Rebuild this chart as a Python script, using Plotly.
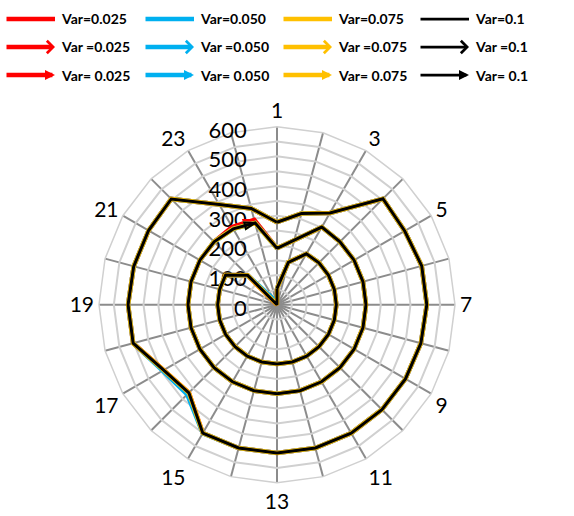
import math
import plotly.graph_objects as go

# 24 spokes of the radar, labels on the odd ones only
spokes = [str(i) for i in range(1, 25)]
spoke_labels = [s if int(s) % 2 == 1 else "" for s in spokes]

# radial grid every 50, labels every 100
radial_ticks = [0, 50, 100, 150, 200, 250, 300, 350, 400, 450, 500, 550, 600]
radial_labels = ["0", "", "100", "", "200", "", "300", "", "400", "", "500", "", "600"]

var_values = ["0.025", "0.050", "0.075", "0.1"]

# plain series ("Var=") - outer loop
outer_025 = [278, 318, 357, 505, 497, 505, 505, 502, 500, 500, 500, 500, 500, 500, 500, 420, 441, 502, 502, 500, 500, 504, 390, 336]
outer_050 = [278, 318, 357, 505, 497, 505, 505, 502, 500, 500, 500, 500, 500, 500, 500, 428, 445, 502, 502, 500, 500, 504, 390, 336]
outer_075 = [278, 318, 357, 505, 497, 505, 505, 502, 500, 500, 500, 500, 500, 500, 500, 420, 441, 502, 502, 500, 500, 504, 390, 336]
outer_100 = [278, 318, 357, 505, 497, 505, 505, 502, 500, 500, 500, 500, 500, 500, 500, 420, 441, 502, 502, 500, 500, 504, 390, 336]

# open-arrow series ("Var =") - middle loop
middle_025 = [190, 225, 302, 300, 300, 300, 300, 300, 300, 300, 300, 300, 300, 300, 300, 300, 300, 300, 300, 300, 300, 300, 302, 296]
middle_050 = [190, 225, 302, 300, 300, 300, 300, 300, 300, 300, 300, 300, 300, 300, 300, 300, 300, 300, 300, 300, 300, 300, 295, 285]
middle_075 = [190, 225, 302, 300, 300, 300, 300, 300, 300, 300, 300, 300, 300, 300, 300, 300, 300, 300, 300, 300, 300, 300, 295, 285]
middle_100 = [190, 225, 302, 300, 300, 300, 300, 300, 300, 300, 300, 300, 300, 300, 300, 300, 300, 300, 300, 300, 300, 300, 295, 285]

# triangle-arrow series ("Var= ") - inner loop
inner_025 = [55, 148, 198, 200, 200, 200, 200, 200, 200, 200, 200, 200, 200, 200, 200, 200, 200, 200, 200, 200, 200, 140, 0, 0]
inner_050 = [55, 148, 198, 200, 200, 200, 200, 200, 200, 200, 200, 200, 200, 200, 200, 200, 200, 200, 200, 200, 200, 140, 20, 0]
inner_075 = [55, 148, 198, 200, 200, 200, 200, 200, 200, 200, 200, 200, 200, 200, 200, 200, 200, 200, 200, 200, 200, 140, 0, 0]
inner_100 = [55, 148, 198, 200, 200, 200, 200, 200, 200, 200, 200, 200, 200, 200, 200, 200, 200, 200, 200, 200, 200, 140, 0, 0]

series_groups = [
    ("Var=", [outer_025, outer_050, outer_075, outer_100], None),
    ("Var =", [middle_025, middle_050, middle_075, middle_100], "arrow-open"),
    ("Var= ", [inner_025, inner_050, inner_075, inner_100], "arrow"),
]

colors = ["#FF0000", "#00B0F0", "#FFC000", "#000000"]
widths = [4.5, 4.5, 4.5, 3]
FONT = "Lato"


def end_angle(values):
    """Screen heading (deg clockwise from up) of the last non-degenerate segment."""
    pts = []
    for i, v in enumerate(values):
        a = math.radians(i * 360 / len(values))
        pts.append((v * math.sin(a), v * math.cos(a)))
    x1, y1 = pts[-1]
    for x0, y0 in reversed(pts[:-1]):
        if abs(x1 - x0) + abs(y1 - y0) > 1e-6:
            return math.degrees(math.atan2(x1 - x0, y1 - y0))
    return 0.0


fig = go.Figure()
for prefix, group, head in series_groups:
    for vals, color, w, var in zip(group, colors, widths, var_values):
        fig.add_trace(go.Scatterpolar(
            r=vals + [vals[0]], theta=spokes + [spokes[0]],
            mode="lines", line=dict(color=color, width=w),
            name=prefix + var, showlegend=False, hoverinfo="skip"))
        if head:
            fig.add_trace(go.Scatterpolar(
                r=[vals[-1]], theta=[spokes[-1]], mode="markers",
                marker=dict(symbol=head, size=11, angle=end_angle(vals),
                            color=color, line=dict(color=color, width=2)),
                showlegend=False, hoverinfo="skip"))

# legend drawn as a 3 x 4 grid of arrow samples with labels
W, H = 574, 516
col_x = [5, 144, 282, 419]
row_y = [19, 47, 75]
heads = [0, 4, 2]
annotations = []
for r, (prefix, group, head) in enumerate(series_groups):
    for c, (color, var) in enumerate(zip(colors, var_values)):
        aw = 2.75 if color == "#000000" else 4.5
        if heads[r] == 4:
            size = 2.4 / aw
        elif heads[r] == 2:
            size = 2.0 / aw
        else:
            size = 1
        x_tip = col_x[c] + 50
        annotations.append(dict(
            x=x_tip / W, y=1 - row_y[r] / H, xref="paper", yref="paper",
            ax=-50, ay=0, axref="pixel", ayref="pixel", text="",
            showarrow=True, arrowhead=heads[r], arrowwidth=aw,
            arrowsize=size, arrowcolor=color))
        annotations.append(dict(
            x=(x_tip + 4) / W, y=1 - row_y[r] / H, xref="paper", yref="paper",
            xanchor="left", yanchor="middle", showarrow=False,
            text=prefix + var,
            font=dict(family=FONT, size=14, color="black", weight="bold")))

cx, cy, rad = 277, 304.7, 178
fig.update_layout(
    width=W, height=H, margin=dict(l=0, r=0, t=0, b=0),
    paper_bgcolor="white", showlegend=False,
    annotations=annotations,
    polar=dict(
        domain=dict(x=[(cx - rad) / W, (cx + rad) / W],
                    y=[(H - cy - rad) / H, (H - cy + rad) / H]),
        bgcolor="white",
        gridshape="linear",
        angularaxis=dict(
            type="category", categoryarray=spokes, rotation=90,
            direction="clockwise", tickmode="array", tickvals=spokes,
            ticktext=spoke_labels, showgrid=True, gridcolor="#8c8c8c",
            gridwidth=1.5, showline=True, linecolor="#d0d0d0", linewidth=1.5,
            ticks="", tickfont=dict(family=FONT, size=21, color="black"),
            layer="below traces"),
        radialaxis=dict(
            range=[0, 600], tickmode="array", tickvals=radial_ticks,
            ticktext=radial_labels, angle=90, side="counterclockwise",
            showline=False, gridcolor="#d0d0d0", gridwidth=1.5,
            ticks="outside", ticklen=10, tickcolor="rgba(0,0,0,0)",
            tickfont=dict(family=FONT, size=22, color="black"),
            layer="below traces"),
    ),
)

fig.write_html("out.html")
